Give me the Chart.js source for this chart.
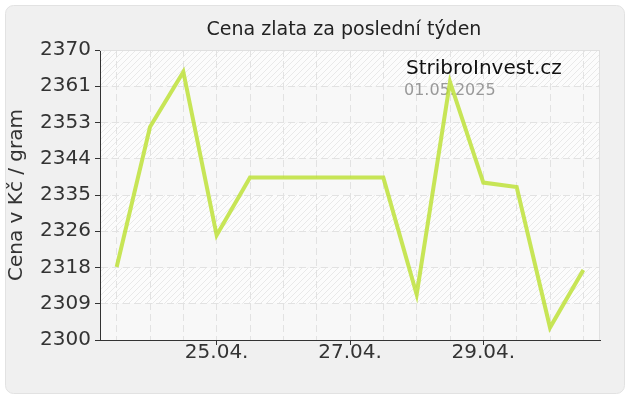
<!DOCTYPE html>
<html>
<head>
<meta charset="utf-8">
<script src="https://cdn.jsdelivr.net/npm/chart.js@4/dist/chart.umd.min.js"></script>
<style>
  html, body { margin: 0; padding: 0; background: #fff; }
  canvas { display: block; }
</style>
</head>
<body>
<canvas id="goldChart" width="630" height="400"></canvas>
<script>
// data
const categories = ['23.04. 12:00', '24.04. 00:00', '24.04. 12:00', '25.04. 00:00', '25.04. 12:00',
  '26.04. 00:00', '26.04. 12:00', '27.04. 00:00', '27.04. 12:00', '28.04. 00:00',
  '28.04. 12:00', '29.04. 00:00', '29.04. 12:00', '30.04. 00:00', '30.04. 12:00'];
const prices = [2317.6, 2351.4, 2364.7, 2325.3, 2339.2, 2339.2, 2339.2, 2339.2, 2339.2,
  2311.0, 2362.3, 2338.0, 2336.9, 2303.0, 2316.9];
const xTickLabels = ['', '', '', '25.04.', '', '', '', '27.04.', '', '', '', '29.04.', '', '', ''];
const yTickValues = [2300, 2308.75, 2317.5, 2326.25, 2335, 2343.75, 2352.5, 2361.25, 2370];
const yTickLabels = ['2300', '2309', '2318', '2326', '2335', '2344', '2353', '2361', '2370'];

const FONT = "'DejaVu Sans', Verdana, sans-serif";

// diagonal hatch for every other band
function makeHatch(ctx) {
  const c = document.createElement('canvas');
  c.width = 6; c.height = 6;
  const p = c.getContext('2d');
  p.fillStyle = '#fcfcfc';
  p.fillRect(0, 0, 6, 6);
  p.strokeStyle = '#e9e9e9';
  p.lineWidth = 1;
  p.beginPath();
  p.moveTo(-1, 7); p.lineTo(7, -1);
  p.moveTo(-4, 4); p.lineTo(4, -4);
  p.moveTo(2, 10); p.lineTo(10, 2);
  p.stroke();
  return ctx.createPattern(c, 'repeat');
}

function roundRect(ctx, x, y, w, h, r) {
  ctx.beginPath();
  ctx.moveTo(x + r, y);
  ctx.arcTo(x + w, y, x + w, y + h, r);
  ctx.arcTo(x + w, y + h, x, y + h, r);
  ctx.arcTo(x, y + h, x, y, r);
  ctx.arcTo(x, y, x + w, y, r);
  ctx.closePath();
}

const backdrop = {
  id: 'backdrop',
  beforeDraw(chart) {
    const ctx = chart.ctx;
    const a = chart.chartArea;
    const ys = chart.scales.y;
    ctx.save();
    // panel
    roundRect(ctx, 5.5, 5.5, 619, 388, 8);
    ctx.fillStyle = '#f0f0f0';
    ctx.fill();
    ctx.strokeStyle = '#e2e2e2';
    ctx.lineWidth = 1;
    ctx.stroke();
    // plot bands
    const hatch = makeHatch(ctx);
    for (let i = 0; i < yTickValues.length - 1; i++) {
      const yb = ys.getPixelForValue(yTickValues[i]);
      const yt = ys.getPixelForValue(yTickValues[i + 1]);
      const fromTop = yTickValues.length - 2 - i;
      ctx.fillStyle = fromTop % 2 === 0 ? hatch : '#f8f8f8';
      ctx.fillRect(a.left, yt, a.right - a.left, yb - yt);
    }
    ctx.restore();
  },
  beforeDatasetsDraw(chart) {
    const ctx = chart.ctx;
    const a = chart.chartArea;
    ctx.save();
    ctx.strokeStyle = '#e0e0e0';
    ctx.lineWidth = 1;
    ctx.beginPath();
    ctx.moveTo(a.left, a.top + 0.5);
    ctx.lineTo(a.right - 0.5, a.top + 0.5);
    ctx.lineTo(a.right - 0.5, a.bottom);
    ctx.stroke();
    // title
    ctx.fillStyle = '#222';
    ctx.font = '19px ' + FONT;
    ctx.textAlign = 'center';
    ctx.textBaseline = 'alphabetic';
    ctx.fillText('Cena zlata za poslední týden', 344, 35);
    // watermark
    ctx.textAlign = 'left';
    ctx.fillStyle = '#111';
    ctx.font = '20px ' + FONT;
    ctx.fillText('StribroInvest.cz', 406, 74);
    ctx.fillStyle = '#999';
    ctx.font = '16px ' + FONT;
    ctx.fillText('01.05.2025', 404, 95);
    ctx.restore();
  }
};

new Chart(document.getElementById('goldChart'), {
  type: 'line',
  data: {
    labels: categories,
    datasets: [{
      data: prices,
      borderColor: 'rgba(188,224,50,0.82)',
      borderWidth: 4,
      pointRadius: 0,
      tension: 0,
      fill: false
    }]
  },
  options: {
    responsive: false,
    animation: false,
    devicePixelRatio: 1,
    layout: { padding: { top: 50, right: 30, left: 0, bottom: 0 } },
    plugins: { legend: { display: false }, title: { display: false }, tooltip: { enabled: false } },
    scales: {
      x: {
        type: 'category',
        offset: true,
        grid: {
          offset: false,
          color: '#e2e2e2',
          tickLength: 5,
          tickColor: c => (xTickLabels[c.index] ? '#333' : 'rgba(0,0,0,0)')
        },
        border: { color: '#333', width: 1, dash: [7, 4] },
        ticks: {
          autoSkip: false,
          maxRotation: 0,
          padding: -4,
          color: '#333',
          font: { family: FONT, size: 20 },
          callback: (v, i) => xTickLabels[i]
        },
        afterFit: s => { s.height = 60; }
      },
      y: {
        min: 2300,
        max: 2370,
        grid: { color: '#e2e2e2', tickLength: 5, tickColor: '#333' },
        border: { color: '#333', width: 1, dash: [7, 4] },
        ticks: {
          padding: 4,
          color: '#333',
          font: { family: FONT, size: 20 },
          callback: (v, i) => yTickLabels[i]
        },
        afterBuildTicks: s => { s.ticks = yTickValues.map(v => ({ value: v })); },
        title: {
          display: true,
          text: 'Cena v Kč / gram',
          color: '#333',
          font: { family: FONT, size: 20 },
          padding: { top: 5, bottom: 0 }
        },
        afterFit: s => { s.width = 100; }
      }
    }
  },
  plugins: [backdrop]
});
</script>
</body>
</html>
